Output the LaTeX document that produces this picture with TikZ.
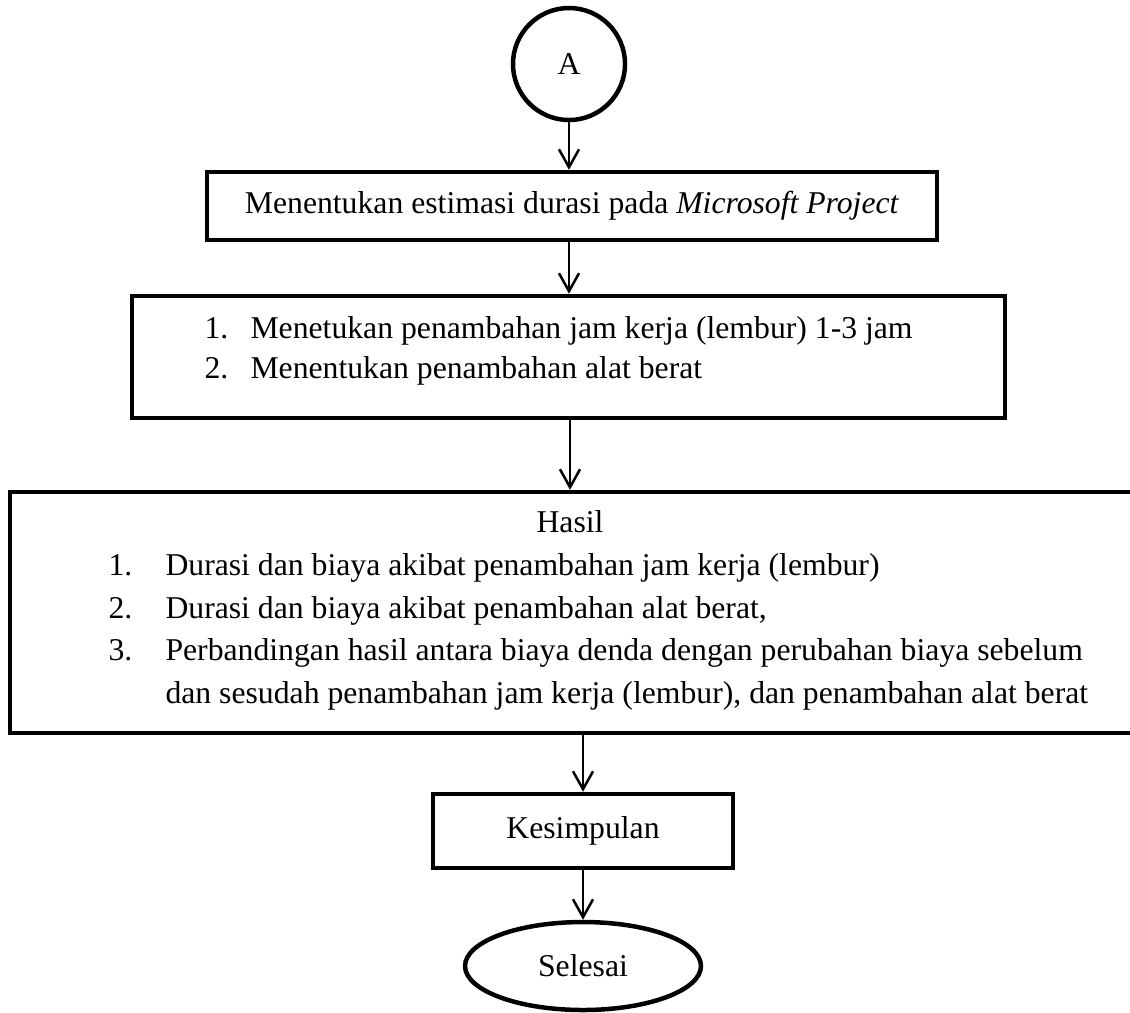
\documentclass[tikz,border=0pt]{standalone}
\usepackage{fontspec}
\setmainfont{Liberation Serif}
\usepackage{tikz}
\usetikzlibrary{arrows.meta}
\usetikzlibrary{shapes,shapes.geometric}
\tikzset{
	huruf/.style={font=\fontsize{12}{14.4}\selectfont},
	kotak/.style={huruf,draw,rectangle,line width=1.7pt,inner sep=0pt},
	lingkaran/.style={huruf,draw,circle,line width=1.7pt,minimum size=42.4pt,inner sep=0pt},
	elips/.style={huruf,draw,ellipse,line width=1.7pt,minimum width=89.3pt,minimum height=33.3pt,inner sep=0pt},
	teks/.style={huruf,inner sep=0pt,anchor=base west},
	panah/.style={line width=0.95pt,-{Straight Barb[length=6.8pt,width=7.6pt]}}
}

\begin{document}
\begin{tikzpicture}[x=0.3785pt,y=-0.3785pt]
			\useasboundingbox (0,0) rectangle (1130,1012);
			
			\node[lingkaran] (A) at (569,64) {A};
			\node[kotak,minimum width=276.3pt,minimum height=25.7pt] (estimasi) at (572,206) {Menentukan estimasi durasi pada \textit{Microsoft Project}};
			
			\node[kotak,minimum width=330.4pt,minimum height=46.2pt] (penambahan) at (568.5,357) {};
			\node[teks] (p1) at (204,338) {1.};
			\node[teks] (p1t) at (250,338) {Menetukan penambahan jam kerja (lembur) 1-3 jam};
			\node[teks] (p2) at (204,378) {2.};
			\node[teks] (p2t) at (250,378) {Menentukan penambahan alat berat};
			
			\node[kotak,minimum width=427.7pt,minimum height=91.2pt] (hasil) at (575,612.5) {};
			\node[huruf,inner sep=0pt,anchor=base] (judul) at (570,532) {Hasil};
			\node[teks] (h1) at (108,575) {1.};
			\node[teks] (h1t) at (165,575) {Durasi dan biaya akibat penambahan jam kerja (lembur)};
			\node[teks] (h2) at (108,618) {2.};
			\node[teks] (h2t) at (165,618) {Durasi dan biaya akibat penambahan alat berat,};
			\node[teks] (h3) at (108,660) {3.};
			\node[teks] (h3t) at (165,660) {Perbandingan hasil antara biaya denda dengan perubahan biaya sebelum};
			\node[teks] (h3u) at (165,703) {dan sesudah penambahan jam kerja (lembur), dan penambahan alat berat};
			
			\node[kotak,minimum width=113.6pt,minimum height=28pt] (kesimpulan) at (583,831) {Kesimpulan};
			\node[elips] (selesai) at (583,966) {Selesai};
			
			\draw[panah] (A) -- (A |- estimasi.north);
			\draw[panah] (A |- estimasi.south) -- (A |- penambahan.north);
			\draw[panah] (judul |- penambahan.south) -- (judul |- hasil.north);
			\draw[panah] (kesimpulan |- hasil.south) -- (kesimpulan);
			\draw[panah] (kesimpulan) -- (selesai);
		\end{tikzpicture}
\end{document}
